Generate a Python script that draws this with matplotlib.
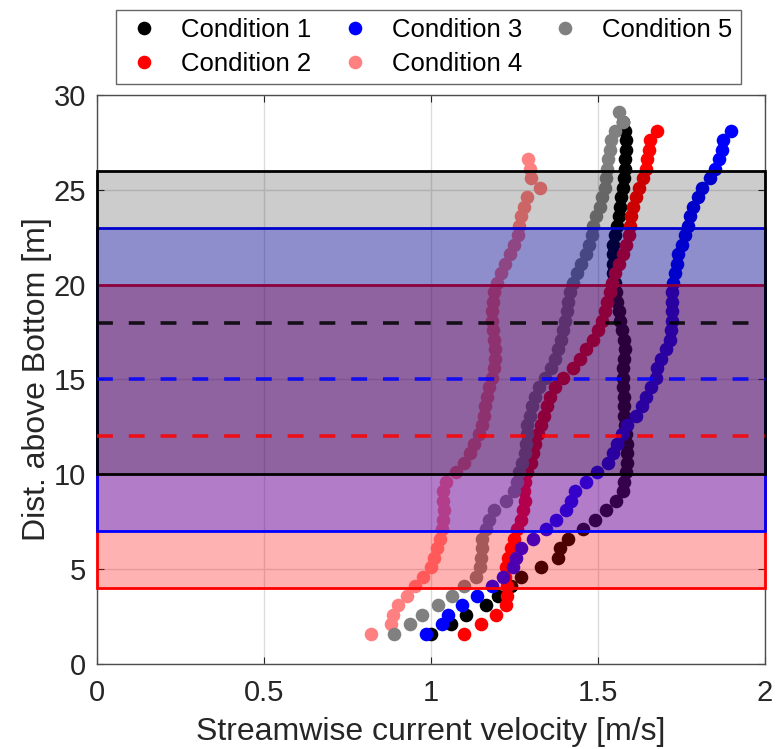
import numpy as np
import matplotlib
matplotlib.use('Agg')
import matplotlib.pyplot as plt
from matplotlib.patches import Rectangle

plt.rcParams['font.family'] = ['Liberation Sans', 'DejaVu Sans']

# measurement bins [m above bottom]
depth = [1.6, 2.1, 2.6, 3.1, 3.6, 4.1, 4.6, 5.1, 5.6, 6.1, 6.6, 7.1, 7.6, 8.1,
         8.6, 9.1, 9.6, 10.1, 10.6, 11.1, 11.6, 12.1, 12.6, 13.1, 13.6, 14.1,
         14.6, 15.1, 15.6, 16.1, 16.6, 17.1, 17.6, 18.1, 18.6, 19.1, 19.6, 20.1,
         20.6, 21.1, 21.6, 22.1, 22.6, 23.1, 23.6, 24.1, 24.6, 25.1, 25.6, 26.1,
         26.6, 27.1, 27.6, 28.1, 28.6, 29.1]

# streamwise velocity [m/s] per condition (bottom bin upward)
cond1 = [1.00, 1.06, 1.105, 1.165, 1.20, 1.24, 1.27, 1.33, 1.38, 1.385, 1.41,
         1.455, 1.49, 1.525, 1.555, 1.575, 1.578, 1.585, 1.587, 1.588, 1.587,
         1.585, 1.58, 1.578, 1.578, 1.577, 1.575, 1.575, 1.575, 1.578, 1.58,
         1.578, 1.572, 1.566, 1.562, 1.558, 1.555, 1.55, 1.546, 1.545, 1.545,
         1.546, 1.552, 1.558, 1.562, 1.565, 1.57, 1.574, 1.577, 1.58, 1.582,
         1.584, 1.585, 1.58, 1.575]
cond2 = [1.10, 1.15, 1.195, 1.224, 1.227, 1.227, 1.22, 1.225, 1.23, 1.24, 1.248,
         1.258, 1.268, 1.275, 1.28, 1.278, 1.282, 1.288, 1.298, 1.305, 1.312,
         1.32, 1.33, 1.338, 1.346, 1.356, 1.37, 1.395, 1.425, 1.445, 1.465,
         1.485, 1.50, 1.512, 1.52, 1.528, 1.535, 1.542, 1.55, 1.562, 1.574,
         1.585, 1.594, 1.596, 1.598, 1.604, 1.613, 1.623, 1.635, 1.643, 1.648,
         1.652, 1.656, 1.677]
cond3 = [0.985, 1.033, 1.05, 1.093, 1.138, 1.183, 1.216, 1.245, 1.255, 1.27,
         1.306, 1.344, 1.375, 1.405, 1.42, 1.43, 1.464, 1.497, 1.53, 1.545,
         1.558, 1.572, 1.588, 1.615, 1.632, 1.643, 1.66, 1.674, 1.676, 1.69,
         1.705, 1.715, 1.718, 1.72, 1.72, 1.72, 1.72, 1.724, 1.73, 1.735, 1.74,
         1.75, 1.76, 1.768, 1.775, 1.785, 1.798, 1.812, 1.835, 1.85, 1.862,
         1.87, 1.875, 1.898]
cond4 = [0.82, 0.88, 0.886, 0.90, 0.928, 0.952, 0.976, 1.00, 1.009, 1.018, 1.027,
         1.033, 1.036, 1.039, 1.037, 1.036, 1.046, 1.075, 1.098, 1.117, 1.13,
         1.143, 1.153, 1.158, 1.162, 1.168, 1.175, 1.182, 1.188, 1.192, 1.193,
         1.19, 1.186, 1.183, 1.183, 1.185, 1.19, 1.197, 1.21, 1.222, 1.235,
         1.248, 1.26, 1.263, 1.27, 1.277, 1.287, 1.325, 1.30, 1.295, 1.29]
cond5 = [0.89, 0.937, 0.973, 1.021, 1.063, 1.099, 1.135, 1.147, 1.15, 1.152,
         1.153, 1.165, 1.175, 1.19, 1.225, 1.248, 1.256, 1.263, 1.272, 1.28,
         1.284, 1.286, 1.288, 1.295, 1.303, 1.312, 1.324, 1.342, 1.36, 1.37,
         1.38, 1.388, 1.395, 1.401, 1.406, 1.411, 1.416, 1.425, 1.437, 1.45,
         1.463, 1.474, 1.482, 1.486, 1.495, 1.505, 1.512, 1.52, 1.525, 1.528,
         1.531, 1.535, 1.54, 1.55, 1.575, 1.563]

labels = ['Condition 1', 'Condition 2', 'Condition 3', 'Condition 4', 'Condition 5']
colors = ['k', 'r', 'b', (1, 0.5, 0.5), (0.5, 0.5, 0.5)]

# layer ranges (bottom, top) and colours
layer_lo = [4, 7, 10]
layer_hi = [20, 23, 26]
layer_col = ['r', 'b', 'k']
layer_alpha = [0.3, 0.3, 0.2]

fig = plt.figure(figsize=(7.8, 7.49), dpi=100)
ax = fig.add_axes([0.1244, 0.1135, 0.8564, 0.7597])

for v, c, lab in zip([cond1, cond2, cond3, cond4, cond5], colors, labels):
    ax.plot(v, depth[:len(v)], 'o', color=c, ms=9.8, mew=0, label=lab, zorder=2)

for lo, hi, c, a in zip(layer_lo, layer_hi, layer_col, layer_alpha):
    ax.add_patch(Rectangle((0, lo), 2, hi - lo, facecolor=c, alpha=a,
                           edgecolor='none', zorder=3))
    ax.add_patch(Rectangle((0, lo), 2, hi - lo, facecolor='none',
                           edgecolor=c, lw=2, zorder=3, clip_on=False))

for lo, hi, c in zip(layer_lo, layer_hi, layer_col):
    ax.axhline((lo + hi) / 2, color=c, lw=2.6, dashes=(4.4, 4.4), alpha=0.85,
               zorder=4)

ax.set_xlim(0, 2)
ax.set_ylim(0, 30)
ax.set_xticks([0, 0.5, 1, 1.5, 2])
ax.set_xticklabels(['0', '0.5', '1', '1.5', '2'])
ax.set_yticks([0, 5, 10, 15, 20, 25, 30])
ax.grid(True, color='#dcdcdc', lw=1, zorder=0)
ax.set_axisbelow(True)
ax.tick_params(direction='in', top=True, right=True, labelsize=21,
               colors='#262626', length=5)
ax.tick_params(axis='x', pad=11)
ax.tick_params(axis='y', pad=8)
for s in ax.spines.values():
    s.set_color('#4d4d4d')
    s.set_linewidth(1)
ax.set_xlabel('Streamwise current velocity [m/s]', fontsize=23,
              color='#262626', labelpad=7)
ax.set_ylabel('Dist. above Bottom [m]', fontsize=23, color='#262626',
              labelpad=1)

leg = fig.legend(loc='upper center', bbox_to_anchor=(0.5494, 0.9866), ncol=3,
                 fontsize=18.5, frameon=True, fancybox=False, edgecolor='#404040',
                 handletextpad=0.69, columnspacing=0.95, borderpad=0.32,
                 labelspacing=0.36, handlelength=1.5, borderaxespad=0)
leg.get_frame().set_linewidth(1)

fig.savefig('out.png', dpi=100)
